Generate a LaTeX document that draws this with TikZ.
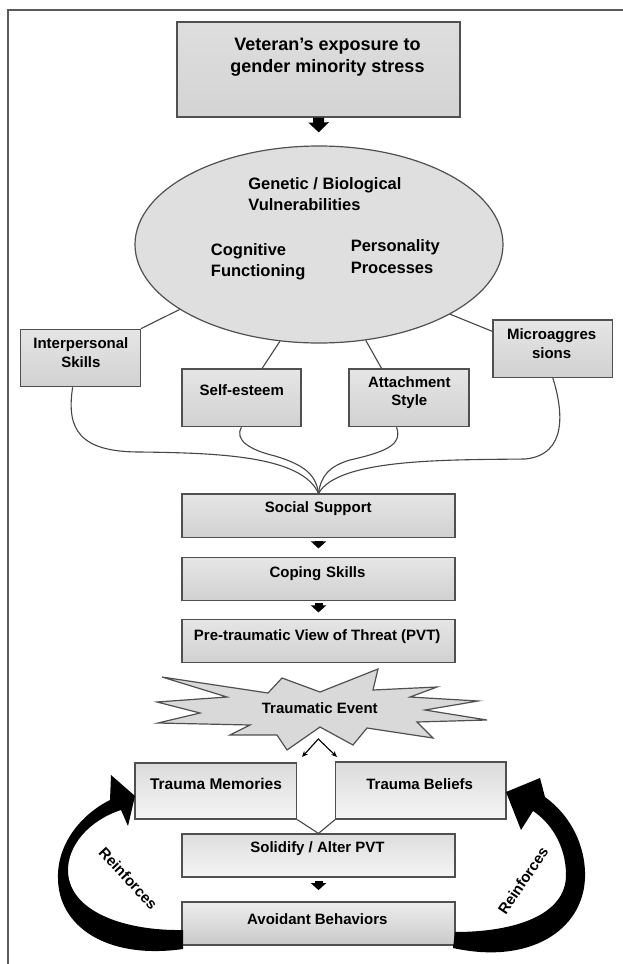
\documentclass[tikz,border=0pt]{standalone}
\usepackage{fontspec}
\setmainfont{Liberation Sans}
\usetikzlibrary{shapes.geometric,arrows.meta}

\tikzset{every picture/.style={line width=0.75pt}}
\tikzset{
  gbox/.style={draw={rgb, 255:red, 80; green, 80; blue, 80 }, line width=1.2pt, top color=gray!20, bottom color=gray!36},
  lbl/.style={font=\fontsize{15}{18.5}\selectfont\bfseries, align=center, inner sep=0pt},
  big/.style={font=\fontsize{16.5}{21.7}\selectfont\bfseries, align=left, inner sep=0pt, anchor=west},
  link/.style={draw={rgb, 255:red, 70; green, 70; blue, 70 }, line width=1.1pt},
  blk/.style={line width=8pt, -{Triangle[width=15pt,length=7pt]}},
}

\begin{document}
\begin{tikzpicture}[x=1pt,y=1pt,yscale=-1,xscale=1]
\useasboundingbox (0,0) rectangle (623,964);

%Straight Lines (frame)
\draw [line width=1.2pt, draw={rgb, 255:red, 90; green, 90; blue, 90 }] (8,964) -- (8,10) -- (623,10) ;

%Shape: Rectangle
\node (vet) [gbox, top color=gray!26, bottom color=gray!34, minimum width=283pt, minimum height=95pt] at (318.5,69.5) {};
%Shape: Ellipse
\node (vuln) [ellipse, draw={rgb, 255:red, 80; green, 80; blue, 80 }, line width=1.2pt, fill=gray!25, minimum width=368pt, minimum height=197pt] at (319,244.5) {};
%Shape: Rectangle
\node (inter) [gbox, minimum width=119.5pt, minimum height=57.4pt] at (80.5,358) {};
\node (selfest) [gbox, minimum width=119pt, minimum height=57.7pt] at (241.5,397.8) {};
\node (attach) [gbox, minimum width=120pt, minimum height=57.7pt] at (409,397.8) {};
\node (micro) [gbox, minimum width=119.6pt, minimum height=57.3pt] at (552.8,348.7) {};
\node (social) [gbox, minimum width=273pt, minimum height=43.3pt] at (318.5,515.7) {};
\node (coping) [gbox, minimum width=273pt, minimum height=43pt] at (318.5,579.2) {};
\node (pvt) [gbox, minimum width=273pt, minimum height=43.4pt] at (318.5,641) {};
\node (memories) [gbox, top color=gray!28, bottom color=gray!8, minimum width=161.7pt, minimum height=56pt] at (215.8,791) {};
\node (beliefs) [gbox, top color=gray!28, bottom color=gray!8, minimum width=170.3pt, minimum height=57pt] at (420.8,790.5) {};
\node (solid) [gbox, top color=gray!26, bottom color=gray!8, minimum width=273pt, minimum height=43pt] at (318.5,855.5) {};
\node (avoid) [gbox, top color=gray!14, bottom color=gray!42, minimum width=273pt, minimum height=43pt] at (318.5,923.5) {};

%Shape: Explosion
\draw [draw={rgb, 255:red, 80; green, 80; blue, 80 }, line width=1.2pt, fill=gray!30] (162,677) -- (268,693) -- (282,678) -- (320,692) -- (378,669) -- (373,690) -- (437,687) -- (410,697) -- (478,701) -- (425,710) -- (487,720) -- (417,722) -- (433,738) -- (367,728) -- (353,745) -- (320,727) -- (287,750) -- (277,735) -- (230,735) -- (250,725) -- (158,723) -- (200,713) -- (157,702) -- (227,697) -- cycle ;

%Block Arrows
\draw [blk, line width=11pt, -{Triangle[width=20pt,length=10pt]}, shorten >=13pt] (vet.south) -- (vuln.north) ;
\draw [blk, shorten <=2.7pt, shorten >=8.7pt] (social.south) -- (coping.north) ;
\draw [blk, shorten <=1.3pt, shorten >=6.3pt] (coping.south) -- (pvt.north) ;
\draw [blk, shorten <=3pt, shorten >=11.3pt] (solid.south) -- (avoid.north) ;

%Straight Lines
\draw [link] (inter.north east) -- (vuln.205) ;
\draw [link] (selfest.55) -- (vuln.248) ;
\draw [link] (attach.133) -- (vuln.296) ;
\draw [link] (micro.164) -- (vuln.332) ;
\draw [link] (memories.south east) -- (solid.north) -- (beliefs.south west) ;

%Curve Lines
\draw [link] (inter.255) .. controls (66,430) and (80,452) .. (140,452) .. controls (220,453) and (302,456) .. (social.north) ;
\draw [link] (selfest.south) .. controls (234,440) and (250,450) .. (275,456) .. controls (305,465) and (316,475) .. (social.north) ;
\draw [link] (attach.247) .. controls (403,445) and (385,452) .. (350,460) .. controls (330,466) and (321,475) .. (social.north) ;
\draw [link] (micro.south) .. controls (563,410) and (568,455) .. (525,459) .. controls (450,460) and (338,458) .. (social.north) ;

%Double Arrow
\coordinate (apex) at (318.3,739) ;
\coordinate (tipl) at (302,757) ;
\coordinate (tipr) at (337,757) ;
\draw [line width=1.1pt, {Stealth[length=6pt,width=5pt]}-{Stealth[length=6pt,width=5pt]}] (tipl) -- (apex) -- (tipr) ;

%Curved Block Arrows
\fill (183,930) .. controls (125,931) and (70,912) .. (68,872) .. controls (67,845) and (90,820) .. (121,810) -- (128,826) -- (135,796) -- (111,775) -- (110,800) .. controls (80,815) and (57,845) .. (58,878) .. controls (58,925) and (105,960) .. (183,949) -- cycle ;
\fill (455,932) .. controls (515,932) and (566,915) .. (566,875) .. controls (566,845) and (550,822) .. (533,811) -- (521,830) -- (506,792) -- (540,778) -- (545,797) .. controls (570,815) and (586,845) .. (585,878) .. controls (583,930) and (530,965) .. (453,948) -- cycle ;

% Text Node
\node (vettxt) [lbl, font=\fontsize{18}{22.3}\selectfont\bfseries] at (327.5,57.2) {Veteran’s exposure to\\gender minority stress};
% Text Node
\node (genetxt) [big] at (248,194.2) {Genetic / Biological\\Vulnerabilities};
% Text Node
\node (cogtxt) [big] at (210.6,261.7) {Cognitive\\Functioning};
% Text Node
\node (perstxt) [big] at (350.4,256.7) {Personality\\Processes};
% Text Node
\node (intertxt) [lbl] at (80.9,352.5) {Interpersonal\\Skills};
% Text Node
\node (selftxt) [lbl] at (241.8,390) {Self-esteem};
% Text Node
\node (attachtxt) [lbl] at (409.4,392.8) {Attachment\\Style};
% Text Node
\node (microtxt) [lbl] at (551.6,343.5) {Microaggres\\sions};
% Text Node
\node (socialtxt) [lbl] at (318.3,509) {Social\,\,Support};
% Text Node
\node (copingtxt) [lbl] at (317.5,574) {Coping\,\,Skills};
% Text Node
\node (pvttxt) [lbl] at (317.2,636.7) {Pre-traumatic View of Threat (PVT)};
% Text Node
\node (eventtxt) [lbl] at (319.8,708.3) {Traumatic Event};
% Text Node
\node (memtxt) [lbl, font=\fontsize{15.5}{18.5}\selectfont\bfseries] at (216,784) {Trauma Memories};
% Text Node
\node (beltxt) [lbl] at (419.7,784) {Trauma Beliefs};
% Text Node
\node (solidtxt) [lbl] at (317.5,848.3) {Solidify / Alter PVT};
% Text Node
\node (avoidtxt) [lbl] at (317.3,918.7) {Avoidant Behaviors};
% Text Node
\node (reinl) [lbl, rotate=-47] at (128.3,878.3) {Reinforces};
% Text Node
\node (reinr) [lbl, rotate=56] at (523,880.7) {Reinforces};

\end{tikzpicture}
\end{document}
